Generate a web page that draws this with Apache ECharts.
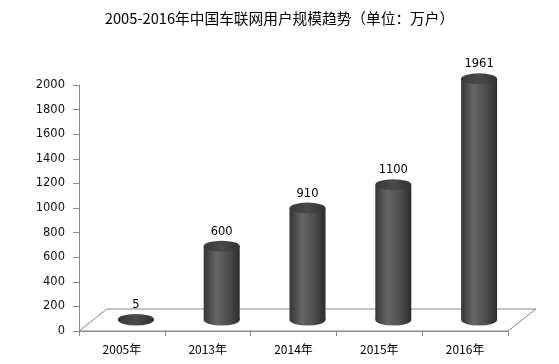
<!DOCTYPE html>
<html><head><meta charset="utf-8">
<script src="https://cdn.jsdelivr.net/npm/echarts@6/dist/echarts.min.js"></script>
<style>html,body{margin:0;padding:0;background:#fff}#c{width:559px;height:364px}</style>
</head><body><div id="c"></div>
<script>
const titleText = '2005-2016年中国车联网用户规模趋势（单位：万户）';
const categories = ['2005年', '2013年', '2014年', '2015年', '2016年'];
const values = [5, 600, 910, 1100, 1961];
const yMin = 0, yMax = 2000, yInterval = 200;

const chart = echarts.init(document.getElementById('c'));
const bodyGrad = new echarts.graphic.LinearGradient(0, 0, 1, 0, [
  {offset: 0, color: '#363636'},
  {offset: 0.35, color: '#666666'},
  {offset: 0.7, color: '#4c4c4c'},
  {offset: 1, color: '#2c2c2c'}
]);
const topGrad = new echarts.graphic.LinearGradient(0, 0, 1, 0, [
  {offset: 0, color: '#383838'},
  {offset: 0.5, color: '#4a4a4a'},
  {offset: 1, color: '#323232'}
]);
const DX = 28, DY = 22;
const hiddenY = {type: 'value', min: yMin, max: yMax, interval: yInterval, show: false, gridIndex: 1};
chart.setOption({
  animation: false,
  title: {text: titleText, left: 'center', top: 6,
    textStyle: {fontFamily: 'Noto Sans CJK SC', fontSize: 14.7, fontWeight: 'normal', color: '#000'}},
  grid: [
    {left: 79, right: 51, top: 85, bottom: 33},
    {left: 93, right: 37, top: 74, bottom: 44}
  ],
  xAxis: [
    {type: 'category', data: categories, gridIndex: 0,
      axisLine: {lineStyle: {color: '#888', width: 1}},
      axisTick: {show: true, length: 5, lineStyle: {color: '#888'}},
      axisLabel: {margin: 12, fontFamily: 'Noto Sans CJK SC', fontSize: 12, color: '#000'}},
    {type: 'category', data: categories, gridIndex: 1, show: false}
  ],
  yAxis: [
    {type: 'value', min: yMin, max: yMax, interval: yInterval, gridIndex: 0,
      axisLine: {show: true, lineStyle: {color: '#888'}},
      axisTick: {show: true, length: 6, lineStyle: {color: '#888'}},
      splitLine: {show: false},
      axisLabel: {margin: 14, fontFamily: 'DejaVu Sans', fontSize: 11.5, color: '#111',
        formatter: v => String(v)}},
    hiddenY
  ],
  series: [
    {type: 'custom', xAxisIndex: 0, yAxisIndex: 0, data: [[0, 0]], silent: true, z: 1,
      renderItem: function (params, api) {
        const cs = params.coordSys;
        const x0 = cs.x, x1 = cs.x + cs.width, y0 = cs.y + cs.height;
        return {type: 'polygon', shape: {points: [[x0, y0], [x1, y0], [x1 + DX, y0 - DY], [x0 + DX, y0 - DY]]},
          style: {fill: '#fff', stroke: '#888', lineWidth: 1}};
      }},
    {type: 'scatter', xAxisIndex: 1, yAxisIndex: 1, data: values.map(() => 0), symbol: 'circle',
      symbolSize: [36, 11], itemStyle: {color: bodyGrad, opacity: 1}, z: 3, silent: true},
    {type: 'bar', xAxisIndex: 1, yAxisIndex: 1, data: values, barWidth: 36,
      itemStyle: {color: bodyGrad}, z: 4, silent: true},
    {type: 'scatter', xAxisIndex: 1, yAxisIndex: 1, data: values, symbol: 'circle',
      symbolSize: [36, 11], itemStyle: {color: topGrad, opacity: 1}, z: 5, silent: true,
      label: {show: true, position: 'top', distance: 3, fontFamily: 'DejaVu Sans', fontSize: 11.5, color: '#000',
        formatter: p => String(p.value)}}
  ]
});
</script></body></html>
